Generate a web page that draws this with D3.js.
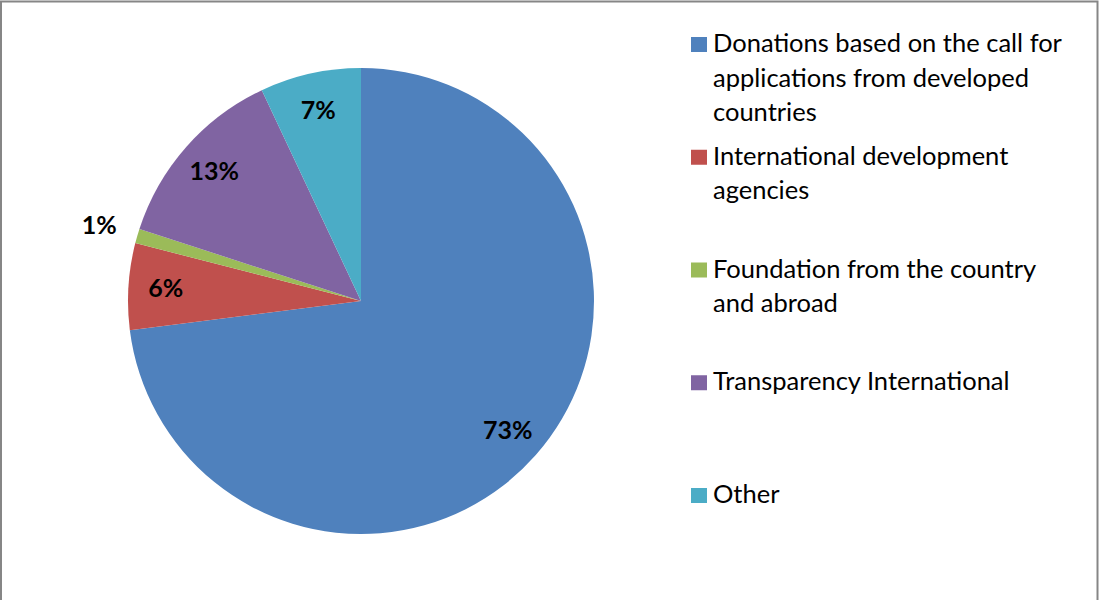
<!DOCTYPE html>
<html>
<head>
<meta charset="utf-8">
<style>
body { margin: 0; background: #fff; }
svg text { font-family: Lato, "Noto Sans", sans-serif; }
.lab { font-weight: bold; font-size: 25px; fill: #000; }
.leg { font-size: 25.5px; fill: #000; }
</style>
</head>
<body>
<div id="ch1"></div>
<script src="https://d3js.org/d3.v7.min.js"></script>
<script>
var categories = ["Donations based on the call for applications from developed countries",
                  "International development agencies",
                  "Foundation from the country and abroad",
                  "Transparency International",
                  "Other"];
var values = [73, 6, 1, 13, 7];
var legendLines = [["Donations based on the call for", "applications from developed", "countries"],
                   ["International development", "agencies"],
                   ["Foundation from the country", "and abroad"],
                   ["Transparency International"],
                   ["Other"]];
var colors = ["#4F81BD", "#C0504D", "#9BBB59", "#8064A2", "#4BACC6"];

var width = 1099, height = 600;
var cx = 361, cy = 301, radius = 233;

var svg = d3.select("#ch1").append("svg")
    .attr("width", width)
    .attr("height", height);

// chart frame
svg.append("rect")
    .attr("x", 1).attr("y", 1.5)
    .attr("width", 1096.5).attr("height", 640)
    .attr("fill", "none")
    .attr("stroke", "#868686")
    .attr("stroke-width", 2);

var data = categories.map(function(c, i) { return {name: c, value: values[i], color: colors[i]}; });

var pie = d3.pie().sort(null).value(function(d) { return d.value; });
var arcs = pie(data);

var arc = d3.arc().innerRadius(0).outerRadius(radius);
var inLabel = d3.arc().innerRadius(radius * 0.84).outerRadius(radius * 0.84);
var outLabel = d3.arc().innerRadius(radius * 1.17).outerRadius(radius * 1.17);

var g = svg.append("g").attr("transform", "translate(" + cx + "," + cy + ")");

g.selectAll("path")
  .data(arcs)
  .enter().append("path")
  .attr("d", arc)
  .attr("fill", function(d) { return d.data.color; });

g.selectAll(".lab")
  .data(arcs)
  .enter().append("text")
  .attr("class", "lab")
  .attr("text-anchor", "middle")
  .attr("dy", "0.35em")
  .attr("transform", function(d) {
    var c = d.data.value < 2 ? outLabel.centroid(d) : inLabel.centroid(d);
    return "translate(" + c + ")";
  })
  .text(function(d) { return d.data.value + "%"; });

// legend
var ly = d3.scalePoint().domain(categories).range([52, 503]);

var leg = svg.selectAll(".legitem")
  .data(data)
  .enter().append("g")
  .attr("class", "legitem")
  .attr("transform", function(d) { return "translate(691," + ly(d.name) + ")"; });

leg.append("rect")
  .attr("x", 0).attr("y", -15)
  .attr("width", 16).attr("height", 15)
  .attr("fill", function(d) { return d.color; });

leg.append("text")
  .attr("class", "leg")
  .attr("x", 22)
  .selectAll("tspan")
  .data(function(d, i) { return legendLines[i]; })
  .enter().append("tspan")
  .attr("x", 22)
  .attr("y", function(d, j) { return j * 34.5; })
  .text(function(d) { return d; });
</script>
</body>
</html>
